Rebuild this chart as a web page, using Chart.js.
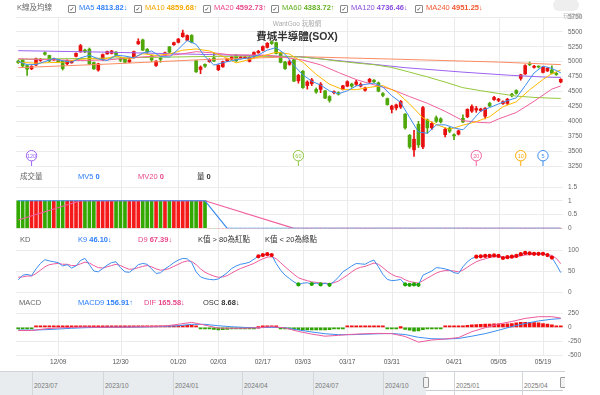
<!DOCTYPE html>
<html><head><meta charset="utf-8">
<script src="https://cdn.jsdelivr.net/npm/chart.js@4"></script>
<style>
body{margin:0;width:600px;height:395px;overflow:hidden;background:#fff;font-family:"Liberation Sans",Arial,"Noto Sans CJK TC",sans-serif;position:relative}
canvas{position:absolute;left:0}
.t{position:absolute;font-size:7.5px;line-height:10px;white-space:nowrap;color:#666;z-index:5}
.t b{font-weight:bold}
.cb{display:inline-block;width:6px;height:6px;border:1px solid #888;border-radius:1px;font-family:"DejaVu Sans";font-size:6px;line-height:6px;text-align:center;color:#333;vertical-align:-1px;margin-right:3px}
.nl{position:absolute;top:0;width:1px;height:24px;background:#d3d7db}
.nt{position:absolute;top:10px;font-size:6.5px;color:#777}
.hd{position:absolute;top:5px;width:4px;height:9px;background:#f2f2f2;border:1px solid #999;border-radius:1px}
</style></head>
<body>
<div class="t" style="left:17px;top:3px">K線及均線</div>
<div class="t" style="left:68px;top:3px"><span class="cb">✓</span><span style="color:#2d7ff9">MA5 <b>4813.82↓</b></span></div>
<div class="t" style="left:134px;top:3px"><span class="cb">✓</span><span style="color:#f5a700">MA10 <b>4859.68↑</b></span></div>
<div class="t" style="left:203px;top:3px"><span class="cb">✓</span><span style="color:#e8488a">MA20 <b>4592.73↑</b></span></div>
<div class="t" style="left:271px;top:3px"><span class="cb">✓</span><span style="color:#62b020">MA60 <b>4383.72↑</b></span></div>
<div class="t" style="left:340px;top:3px"><span class="cb">✓</span><span style="color:#8a4fe0">MA120 <b>4736.46↓</b></span></div>
<div class="t" style="left:415px;top:3px"><span class="cb">✓</span><span style="color:#f0582f">MA240 <b>4951.25↓</b></span></div>
<div class="t" style="left:553px;top:-1px;width:26px;height:12px;border-radius:8px;background:#eee"></div>
<div class="t" style="left:563px;top:11px;font-size:6px;color:#bbb">玩股網</div>
<div class="t" style="left:0;width:594px;top:19px;text-align:center;font-size:6.5px;color:#aaa">WantGoo 玩股網</div>
<div class="t" style="left:0;width:594px;top:30px;text-align:center;font-size:10.5px;line-height:12px;font-weight:bold;color:#333">費城半導體(SOX)</div>

<div class="t" style="left:20px;top:172px">成交量</div>
<div class="t" style="left:78px;top:172px;color:#2d7ff9">MV5 <b>0</b></div>
<div class="t" style="left:138px;top:172px;color:#e8488a">MV20 <b>0</b></div>
<div class="t" style="left:197px;top:172px;color:#333">量 <b>0</b></div>

<div class="t" style="left:20px;top:235px">KD</div>
<div class="t" style="left:78px;top:235px;color:#2d7ff9">K9 <b>46.10↓</b></div>
<div class="t" style="left:138px;top:235px;color:#e8488a">D9 <b>67.39↓</b></div>
<div class="t" style="left:198px;top:235px;color:#333">K值 &gt; 80為紅點</div>
<div class="t" style="left:265px;top:235px;color:#333">K值 &lt; 20為綠點</div>

<div class="t" style="left:19px;top:298px">MACD</div>
<div class="t" style="left:78px;top:298px;color:#2d7ff9">MACD9 <b>156.91↑</b></div>
<div class="t" style="left:144px;top:298px;color:#e8488a">DIF <b>165.58↓</b></div>
<div class="t" style="left:203px;top:298px;color:#333">OSC <b>8.68↓</b></div>

<canvas id="cMain" width="600" height="170" style="top:0"></canvas>
<canvas id="cVol" width="600" height="78" style="top:166px"></canvas>
<canvas id="cKD" width="600" height="56" style="top:244px"></canvas>
<canvas id="cMacd" width="600" height="70" style="top:300px"></canvas>

<div id="nav" style="position:absolute;left:0;top:371px;width:565px;height:24px;background:#fff;border-top:1px solid #d0d4d8;overflow:hidden">
  <div style="position:absolute;left:0;top:0;width:426px;height:24px;background:#e8ecef"></div>
  <div style="position:absolute;left:426px;top:18px;width:137px;height:1px;background:#c8cdd2"></div>
  <div class="nl" style="left:32px"></div><div class="nt" style="left:34px">2023/07</div>
  <div class="nl" style="left:103px"></div><div class="nt" style="left:105px">2023/10</div>
  <div class="nl" style="left:173px"></div><div class="nt" style="left:175px">2024/01</div>
  <div class="nl" style="left:242px"></div><div class="nt" style="left:244px">2024/04</div>
  <div class="nl" style="left:313px"></div><div class="nt" style="left:315px">2024/07</div>
  <div class="nl" style="left:383px"></div><div class="nt" style="left:385px">2024/10</div>
  <div class="nl" style="left:454px"></div><div class="nt" style="left:456px">2025/01</div>
  <div class="nl" style="left:522px"></div><div class="nt" style="left:524px">2025/04</div>
  <div class="hd" style="left:423px"></div>
  <div class="hd" style="left:560px"></div>
</div>

<script>
const dates = ['11/25','11/26','11/27','11/29','12/02','12/03','12/04','12/05','12/06','12/09','12/10','12/11','12/12','12/13','12/16','12/17','12/18','12/19','12/20','12/23','12/24','12/26','12/27','12/30','12/31','01/02','01/03','01/06','01/07','01/08','01/10','01/13','01/14','01/15','01/16','01/17','01/21','01/22','01/23','01/24','01/27','01/28','01/29','01/30','01/31','02/03','02/04','02/05','02/06','02/07','02/10','02/11','02/12','02/13','02/14','02/18','02/19','02/20','02/21','02/24','02/25','02/26','02/27','02/28','03/03','03/04','03/05','03/06','03/07','03/10','03/11','03/12','03/13','03/14','03/17','03/18','03/19','03/20','03/21','03/24','03/25','03/26','03/27','03/28','03/31','04/01','04/02','04/03','04/04','04/07','04/08','04/09','04/10','04/11','04/14','04/15','04/16','04/17','04/21','04/22','04/23','04/24','04/25','04/28','04/29','04/30','05/01','05/02','05/05','05/06','05/07','05/08','05/09','05/12','05/13','05/14','05/15','05/16','05/19','05/20','05/21','05/22','05/23'];

const tickLabels = ['12/09','12/30','01/20','02/03','02/17','03/03','03/17','03/31','04/21','05/05','05/19'];
const tickDates  = ['12/09','12/30','01/21','02/03','02/18','03/03','03/17','03/31','04/21','05/05','05/19'];

const openP = [5010,5028,4935,4880,4945,5020,5150,5105,5030,5030,5010,4965,4980,5090,5165,5195,5210,4985,4860,5030,5130,5140,5160,5050,5045,4995,5070,5300,5365,5210,5100,4935,5060,5115,5250,5285,5325,5420,5360,5440,5015,4870,4955,5000,5065,4865,4915,5010,5045,5110,5055,5060,5005,5080,5150,5190,5240,5335,5320,5150,4995,4955,5035,4680,4840,4600,4630,4535,4535,4510,4415,4480,4480,4535,4590,4625,4620,4590,4520,4660,4690,4645,4465,4380,4200,4225,4240,4120,3765,3520,3950,3570,4025,3890,4060,4040,3775,3885,3775,3785,4050,4075,4170,4190,4180,4085,4300,4365,4350,4298,4300,4455,4515,4720,4795,4965,4905,4915,4820,4845,4860,4805,4660];
const highP = [5025,5040,4945,4935,5060,5055,5165,5110,5060,5040,5020,5030,5020,5150,5290,5210,5230,4995,4975,5130,5180,5190,5170,5070,5055,5060,5180,5385,5380,5220,5110,5020,5085,5160,5255,5330,5390,5530,5450,5455,5025,4930,4965,5050,5150,4950,5010,5060,5095,5120,5090,5090,5085,5165,5190,5265,5320,5350,5330,5160,5005,5030,5040,4790,4850,4680,4720,4560,4650,4520,4430,4510,4495,4605,4680,4640,4690,4645,4575,4720,4700,4660,4480,4390,4270,4290,4350,4130,3780,3850,4000,4250,4040,3990,4090,4060,3890,3900,3790,3855,4110,4210,4275,4250,4220,4230,4320,4420,4385,4345,4385,4470,4530,4790,4950,4995,4940,4930,4920,4900,4930,4820,4715];
const lowP = [4970,4915,4770,4865,4935,5005,5110,5000,5020,4985,4860,4950,4975,5080,5160,5150,4950,4870,4840,5020,5125,5130,5090,5000,4980,4985,5060,5290,5185,5140,5000,4920,4990,5105,5150,5275,5315,5410,5350,5315,4820,4800,4905,4990,5000,4850,4905,5000,5035,5005,5045,5050,4995,5070,5140,5180,5230,5290,5130,4980,4870,4940,4665,4640,4550,4540,4600,4470,4480,4380,4320,4460,4440,4525,4580,4570,4600,4575,4505,4650,4645,4495,4415,4270,4140,4190,4215,3870,3545,3410,3560,3540,3800,3860,3980,3970,3740,3810,3690,3770,3975,4060,4150,4150,4160,4040,4245,4350,4330,4285,4280,4410,4455,4690,4785,4935,4890,4895,4810,4835,4795,4770,4645];
const closeP = [4985,4930,4875,4920,5050,5040,5125,5015,5050,5000,4885,5020,5005,5140,5270,5165,4960,4880,4965,5120,5170,5180,5110,5025,4990,5030,5170,5340,5195,5160,5030,5010,5040,5150,5160,5320,5380,5480,5440,5325,4830,4910,4925,5040,5010,4940,5000,5050,5080,5015,5080,5075,5075,5155,5175,5255,5310,5305,5140,4990,4885,5000,4675,4770,4565,4660,4695,4490,4625,4390,4350,4492,4455,4595,4665,4590,4660,4620,4560,4705,4665,4505,4435,4280,4255,4275,4335,3890,3570,3700,3605,4230,3890,3965,4000,3990,3865,3835,3755,3840,3990,4200,4250,4215,4205,4220,4258,4400,4372,4330,4370,4428,4470,4780,4935,4950,4925,4910,4910,4890,4805,4785,4705];

// moving averages: [index, value]
const ma5Pts = [[0,5005],[2,4950],[4,4952],[6,5002],[8,5056],[10,5015],[12,4992],[14,5064],[16,5108],[18,5048],[20,5019],[22,5109],[24,5095],[26,5065],[28,5145],[30,5179],[32,5087],[34,5078],[36,5210],[38,5356],[40,5291],[42,5086],[44,4943],[46,4983],[48,5016],[50,5045],[52,5065],[54,5112],[56,5194],[58,5237],[60,5126],[62,4938],[64,4779],[66,4673],[68,4607],[70,4510],[72,4462],[74,4511],[76,4593],[78,4619],[80,4642],[82,4574],[84,4428],[86,4316],[88,4065],[90,3820],[92,3799],[94,3938],[96,3942],[98,3889],[100,3857],[102,4007],[104,4172],[106,4230],[108,4291],[110,4346],[112,4394],[114,4597],[116,4812],[118,4926],[120,4888],[122,4814]];
const ma10Pts = [[0,4990],[4,4975],[7,4985],[10,4989],[13,5033],[16,5051],[19,5041],[22,5096],[25,5043],[28,5133],[31,5106],[34,5129],[37,5193],[40,5214],[43,5181],[46,5090],[49,4980],[52,5037],[55,5096],[58,5159],[61,5129],[64,4990],[67,4787],[70,4622],[73,4532],[76,4531],[79,4569],[82,4600],[85,4496],[88,4292],[91,4058],[94,3946],[97,3865],[100,3936],[103,3994],[106,4077],[109,4244],[112,4327],[115,4529],[118,4701],[120,4800],[122,4860]];
const ma20Pts = [[0,5050],[8,5030],[14,5020],[20,5029],[24,5056],[28,5081],[32,5098],[36,5121],[40,5168],[44,5147],[48,5114],[52,5114],[56,5109],[60,5071],[64,5027],[68,4947],[72,4819],[76,4700],[80,4611],[84,4535],[88,4415],[92,4302],[96,4167],[100,4011],[104,3980],[106,3974],[108,4039],[112,4148],[116,4336],[120,4541],[122,4593]];
const ma60Pts = [[0,5040],[20,5060],[40,5085],[50,5092],[60,5089],[64,5077],[68,5047],[72,5010],[76,4977],[80,4950],[84,4903],[88,4825],[92,4745],[96,4658],[100,4564],[104,4514],[108,4467],[112,4423],[116,4401],[120,4388],[122,4384]];
const ma120Pts = [[0,5185],[20,5160],[40,5125],[63,5085],[75,4995],[87,4900],[100,4825],[110,4775],[119,4740],[122,4736]];
const ma240Pts = [[0,4900],[20,4960],[40,5030],[63,5085],[86,5040],[108,4994],[122,4951]];

const markIdx = [3,63,103,113,118];
const markText = ['120','60','20','10','5'];

const volume = [1,1,1,1,1,1,1,1,1,1,1,1,1,1,1,1,1,1,1,1,1,1,1,1,1,1,1,1,1,1,1,1,1,1,1,1,1,1,1,1,1,1,1,0,0,0,0,0,0,0,0,0,0,0,0,0,0,0,0,0,0,0,0,0,0,0,0,0,0,0,0,0,0,0,0,0,0,0,0,0,0,0,0,0,0,0,0,0,0,0,0,0,0,0,0,0,0,0,0,0,0,0,0,0,0,0,0,0,0,0,0,0,0,0,0,0,0,0,0,0,0,0,0];
const mv5Pts = [[0,1],[42,1],[47,0],[122,0]];
const mv20Pts = [[0,0.3],[14,1],[42,1],[62,0],[122,0]];

const kVal = [29,40,42,39,55,68,77,74,72,70,62,65,57,62,75,80,65,50,48,56,64,70,72,58,48,47,55,65,68,66,55,44,46,55,62,70,76,80,79,70,48,36,32,30,29,31,38,46,56,62,66,68,71,78,85,88,90,88,68,52,40,32,24,18,21,22,19,21,18,21,17,25,35,48,55,62,68,67,66,72,76,60,42,30,27,28,30,18,17,18,17,40,45,50,58,57,55,52,46,44,60,72,80,84,85,86,86,87,86,81,83,84,86,90,93,92,91,91,91,88,82,65,46.1];
const dVal = [35,36,38,38,44,52,60,65,67,68,66,66,63,63,67,71,69,63,58,57,60,63,66,63,58,54,55,58,61,63,60,55,52,53,56,61,66,71,74,73,65,55,47,42,38,35,36,39,45,51,56,60,64,68,74,79,83,84,79,70,60,51,42,34,30,27,24,23,21,21,20,22,26,33,40,48,55,59,61,65,69,66,58,49,42,37,35,29,25,23,21,27,33,39,45,49,51,51,50,48,52,59,66,72,76,79,82,84,84,83,83,83,84,86,88,89,90,90,90,89,87,80,67.39];

const difPts = [[0,-55],[3,-55],[6,-25],[9,-8],[12,0],[15,8],[18,2],[21,5],[24,5],[27,12],[30,18],[33,25],[36,55],[39,90],[42,40],[45,-12],[48,-15],[51,-14],[54,-5],[57,16],[60,-10],[63,-71],[66,-118],[69,-155],[72,-140],[75,-122],[78,-112],[81,-105],[84,-110],[87,-160],[90,-260],[93,-222],[96,-205],[99,-180],[102,-75],[105,-5],[108,60],[111,105],[114,160],[117,190],[120,190],[122,165.58]];
const macd9Pts = [[0,-45],[3,-48],[6,-40],[9,-28],[12,-15],[15,-5],[18,0],[21,3],[24,4],[27,7],[30,12],[33,18],[36,30],[39,55],[42,55],[45,30],[48,12],[51,0],[54,-5],[57,2],[60,-5],[63,-45],[66,-80],[69,-112],[72,-128],[75,-128],[78,-120],[81,-112],[84,-108],[87,-125],[90,-175],[93,-200],[96,-205],[99,-195],[102,-155],[105,-110],[108,-50],[111,15],[114,70],[117,115],[120,145],[122,156.91]];
const osc = [-10,-9,-8,-7,2,8,15,18,19,20,17,16,15,14,14,13,8,3,2,3,3,2,2,1,1,2,4,5,6,6,6,5,6,7,12,18,25,32,36,35,10,-5,-15,-25,-33,-42,-38,-33,-27,-22,-18,-14,-8,-3,0,6,11,14,8,-2,-10,-20,-32,-41,-45,-44,-43,-43,-42,-43,-38,-28,-12,-4,2,6,9,10,8,8,9,7,2,-2,-2,-1,0,-35,-50,-65,-60,-40,-25,-12,-6,-2,1,4,8,12,25,35,45,50,55,58,60,62,62,60,62,70,80,90,92,90,86,80,70,58,45,28,8.68];

// ---------- styling ----------
const RED = '#e8100f', GREEN = '#4fa70a';
const C5 = '#3d8ef0', C10 = '#ffb900', C20 = '#f0609e', C60 = '#93c83c', C120 = '#9c62f0', C240 = '#ff8a60';
const N = dates.length;
const tickIdx = tickDates.map(d => dates.indexOf(d));
const upAt = i => closeP[i] >= openP[i];

function series(pts) { const a = new Array(N).fill(null); pts.forEach(([i, v]) => { a[i] = v; }); return a; }

Chart.defaults.font.family = '"Liberation Sans", Arial, sans-serif';
Chart.defaults.font.size = 6.5;
Chart.defaults.color = '#666';

const vgrid = {
  id: 'vgrid',
  beforeDatasetsDraw(chart, args, opts) {
    const xs = chart.scales.x, ctx = chart.ctx, ca = chart.chartArea;
    const y0 = opts.fromTop ? 0 : ca.top;
    const y1 = opts.toBottom ? chart.height : ca.bottom;
    ctx.save(); ctx.strokeStyle = '#ebebeb'; ctx.lineWidth = 1;
    tickIdx.forEach(i => {
      const px = Math.round(xs.getPixelForValue(i)) + 0.5;
      ctx.beginPath(); ctx.moveTo(px, y0); ctx.lineTo(px, y1); ctx.stroke();
    });
    ctx.restore();
  }
};

const markers = {
  id: 'markers',
  afterDatasetsDraw(chart) {
    const xs = chart.scales.x, ctx = chart.ctx, b = chart.chartArea.bottom;
    const cols = [C120, '#8cc63f', C20, '#ffaa00', C5];
    markIdx.forEach((idx, k) => {
      const px = xs.getPixelForValue(idx), cy = b - 10.3;
      ctx.save();
      ctx.strokeStyle = cols[k]; ctx.lineWidth = 1;
      ctx.beginPath(); ctx.moveTo(px, cy + 5); ctx.lineTo(px, b); ctx.stroke();
      ctx.beginPath(); ctx.arc(px, cy, 5.2, 0, Math.PI * 2);
      ctx.fillStyle = '#fff'; ctx.fill(); ctx.stroke();
      ctx.fillStyle = cols[k]; ctx.font = '5.5px "Liberation Sans", Arial';
      ctx.textAlign = 'center'; ctx.textBaseline = 'middle';
      ctx.fillText(markText[k], px, cy + 0.3);
      ctx.restore();
    });
  }
};

function yAxis(min, max, step) {
  return {
    position: 'right', min, max,
    ticks: { stepSize: step, padding: 0, color: '#666', font: { size: 6.5 }, callback: v => String(v) },
    grid: { color: '#ececec', drawTicks: true, tickLength: 5, tickColor: 'rgba(0,0,0,0)' },
    border: { display: false },
    afterFit: s => { s.width = 37; }
  };
}
function xAxis(show) {
  const o = { type: 'category', offset: true, display: show, grid: { display: false, drawTicks: false }, border: { display: false } };
  if (show) {
    o.ticks = { autoSkip: false, maxRotation: 0, minRotation: 0, padding: 3, color: '#555', font: { size: 6.5 },
      callback: function (v) { const k = tickIdx.indexOf(v); return k >= 0 ? tickLabels[k] : ''; } };
    o.afterFit = s => { s.height = 14.3; };
  }
  return o;
}
function base(pad, scales, vg) {
  return {
    responsive: false, maintainAspectRatio: false, animation: false, events: [],
    layout: { padding: pad },
    plugins: { legend: { display: false }, tooltip: { enabled: false }, vgrid: vg },
    scales
  };
}
function line(data, color, order, extra) {
  return Object.assign({ type: 'line', data, borderColor: color, borderWidth: 1, pointRadius: 0, tension: 0, spanGaps: true, order }, extra || {});
}

// ---------- main candlestick chart ----------
new Chart(document.getElementById('cMain'), {
  type: 'bar',
  data: {
    labels: dates,
    datasets: [
      line(series(ma5Pts), C5, 0),
      line(series(ma10Pts), C10, 0),
      line(series(ma20Pts), C20, 0),
      line(series(ma60Pts), C60, 0),
      line(series(ma120Pts), C120, 0),
      line(series(ma240Pts), C240, 0),
      { type: 'bar', data: dates.map((d, i) => [openP[i], closeP[i]]), grouped: false, barThickness: 3, minBarLength: 1,
        backgroundColor: c => upAt(c.dataIndex) ? RED : GREEN, order: 2 },
      { type: 'bar', data: dates.map((d, i) => [lowP[i], highP[i]]), grouped: false, barThickness: 1,
        backgroundColor: c => upAt(c.dataIndex) ? RED : GREEN, order: 3 }
    ]
  },
  options: base({ left: 16, top: 17, bottom: 4, right: 0 }, { x: xAxis(false), y: yAxis(3250, 5750, 250) }, {}),
  plugins: [vgrid, markers]
});

// ---------- volume ----------
new Chart(document.getElementById('cVol'), {
  type: 'bar',
  data: {
    labels: dates,
    datasets: [
      line(series(mv5Pts), C5, 0, { borderWidth: 1.2 }),
      line(series(mv20Pts), C20, 0, { borderWidth: 1.2 }),
      { type: 'bar', data: volume, barThickness: 3, backgroundColor: c => upAt(c.dataIndex) ? '#f51a1a' : '#33a800', order: 2 }
    ]
  },
  options: base({ left: 16, top: 21, bottom: 15.7, right: 0 }, { x: xAxis(false), y: yAxis(0, 1.5, 0.5) }, { fromTop: true, toBottom: true }),
  plugins: [vgrid]
});

// ---------- KD ----------
new Chart(document.getElementById('cKD'), {
  type: 'line',
  data: {
    labels: dates,
    datasets: [
      line(kVal, C5, 0, {
        pointRadius: c => (kVal[c.dataIndex] > 80 || kVal[c.dataIndex] < 20) ? 2.1 : 0,
        pointBackgroundColor: c => kVal[c.dataIndex] > 80 ? '#f00000' : '#1fa400',
        pointBorderWidth: 0
      }),
      line(dVal, '#ec5b9c', 1)
    ]
  },
  options: base({ left: 16, top: 6, bottom: 8, right: 0 }, { x: xAxis(false), y: yAxis(0, 100, 50) }, { fromTop: true, toBottom: true }),
  plugins: [vgrid]
});

// ---------- MACD ----------
new Chart(document.getElementById('cMacd'), {
  type: 'bar',
  data: {
    labels: dates,
    datasets: [
      line(series(difPts), '#ec5b9c', 0),
      line(series(macd9Pts), C5, 0),
      { type: 'bar', data: osc, barThickness: 3, minBarLength: 1.5,
        backgroundColor: c => osc[c.dataIndex] >= 0 ? '#f01010' : '#2fa300', order: 2 }
    ]
  },
  options: base({ left: 16, top: 13.3, bottom: 0, right: 0 }, { x: xAxis(true), y: yAxis(-500, 250, 250) }, { fromTop: true, toBottom: false }),
  plugins: [vgrid]
});
</script>
</body></html>
